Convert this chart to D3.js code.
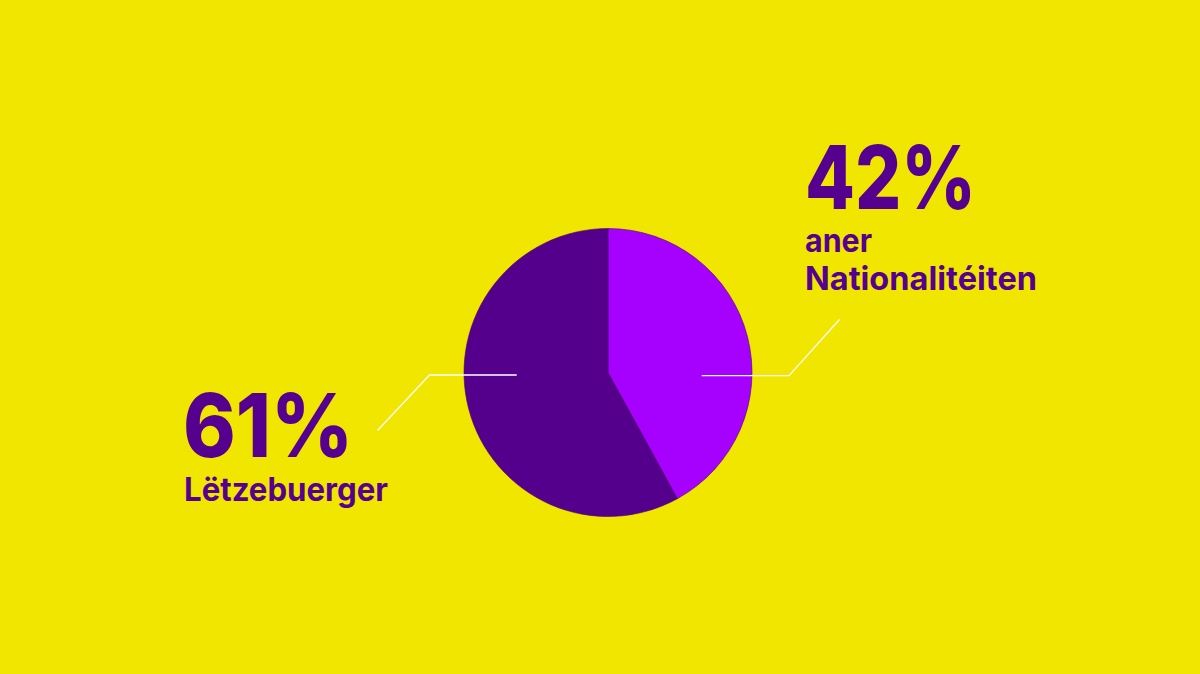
<!DOCTYPE html>
<html><head><meta charset="utf-8">
<script src="https://cdn.jsdelivr.net/npm/d3@7"></script>
<style>html,body{margin:0;padding:0;background:#F1E600;}svg{display:block;}
text{font-variant-ligatures:none;font-feature-settings:"liga" 0, "clig" 0;}</style>
</head><body>
<script>
// Data
const categories = ["aner Nationalitéiten", "Lëtzebuerger"];
const sliceShares = [42, 58];          // slice sizes as drawn
const labelPercents = [42, 61];        // percentages printed on the labels
const subLabels = [["aner", "Nationalitéiten"], ["Lëtzebuerger"]];
const sliceColors = ["#A600FF", "#55008C"];

const W = 1200, H = 674;
const svg = d3.select("body").append("svg").attr("width", W).attr("height", H);
svg.append("rect").attr("width", W).attr("height", H).attr("fill", "#F1E600");

const cx = 608, cy = 372.5, R = 144;
const pie = d3.pie().sort(null).value(d => d)(sliceShares);
const arc = d3.arc().innerRadius(0).outerRadius(R);
const g = svg.append("g").attr("transform", `translate(${cx},${cy})`);
g.selectAll("path").data(pie).join("path")
  .attr("d", arc).attr("fill", (d, i) => sliceColors[i])
  .attr("stroke", "#4A0078").attr("stroke-width", 0.6);

// leader lines
const leaders = [
  [[701.7, 375.7], [789, 375.7], [839.5, 319.5]],
  [[516.7, 375], [429.5, 375], [377.5, 430.5]]
];
svg.selectAll("path.leader").data(leaders).join("path")
  .attr("class", "leader")
  .attr("d", d => d3.line()(d))
  .attr("fill", "none").attr("stroke", "#FFFFFF").attr("stroke-width", 1.3);

const textColor = "#560090";
const font = "Inter, Lato, sans-serif";
// big percentages
const bigPos = [{x: 805, y: 208.5, w: 171}, {x: 183, y: 457, w: 170}];
svg.selectAll("text.big").data(labelPercents).join("text")
  .attr("class", "big")
  .attr("x", (d, i) => bigPos[i].x).attr("y", (d, i) => bigPos[i].y)
  .attr("textLength", (d, i) => bigPos[i].w).attr("lengthAdjust", "spacingAndGlyphs")
  .attr("font-family", font).attr("font-weight", 800).attr("font-size", 88)
  .attr("fill", textColor).text(d => d + "%");

// sub labels
const subPos = [
  [{x: 805, y: 251.7, w: 67}, {x: 805, y: 289.5, w: 232}],
  [{x: 184, y: 501, w: 204}]
];
subLabels.forEach((lines, i) => {
  lines.forEach((t, j) => {
    svg.append("text")
      .attr("x", subPos[i][j].x).attr("y", subPos[i][j].y)
      .attr("textLength", subPos[i][j].w).attr("lengthAdjust", "spacingAndGlyphs")
      .attr("font-family", font).attr("font-weight", 700).attr("font-size", 32)
      .attr("fill", textColor).text(t);
  });
});
</script>
</body></html>
